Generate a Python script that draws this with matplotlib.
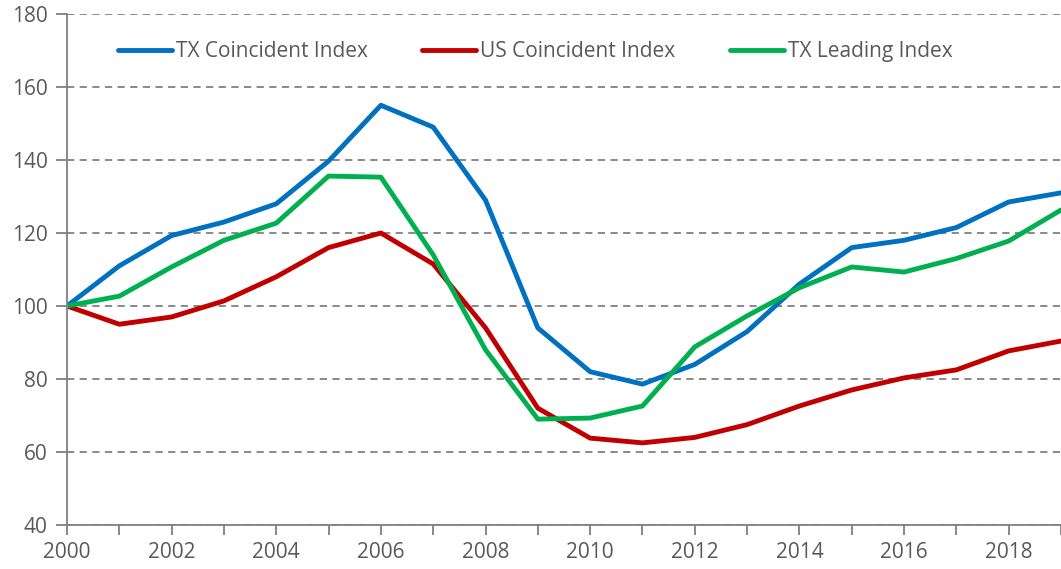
import matplotlib.pyplot as plt
from matplotlib.ticker import MultipleLocator

years = list(range(2000, 2020))
tx_coincident = [100, 111, 119.3, 123, 128, 139.7, 155, 149, 129, 94,
                 82, 78.6, 84, 93, 106, 116, 118, 121.5, 128.5, 131]
us_coincident = [100, 95, 97, 101.4, 108, 116, 120, 111.5, 94, 72,
                 63.8, 62.5, 64, 67.5, 72.6, 77, 80.3, 82.5, 87.7, 90.4]
tx_leading = [100, 102.7, 110.7, 118, 122.7, 135.6, 135.3, 114, 88, 69,
              69.3, 72.6, 88.8, 97.3, 105, 110.7, 109.3, 113, 117.8, 126.3]

plt.rcParams['font.family'] = ['Open Sans', 'DejaVu Sans']
grey = '#595959'
axis_grey = '#808080'

fig = plt.figure(figsize=(10.61, 5.69), dpi=100)
ax = fig.add_axes([67 / 1061, 1 - 525 / 569, 1 - 67 / 1061, (525 - 14) / 569])

ax.plot(years, tx_coincident, color='#0070C0', lw=3.5, label='TX Coincident Index',
        solid_capstyle='round')
ax.plot(years, us_coincident, color='#C00000', lw=3.5, label='US Coincident Index',
        solid_capstyle='round')
ax.plot(years, tx_leading, color='#00B050', lw=3.5, label='TX Leading Index',
        solid_capstyle='round')

ax.set_xlim(2000, 2019)
ax.set_ylim(40, 180)
ax.yaxis.set_major_locator(MultipleLocator(20))
ax.xaxis.set_major_locator(MultipleLocator(2))
ax.xaxis.set_minor_locator(MultipleLocator(1))
ax.grid(axis='y', linestyle=(0, (4, 3)), color=axis_grey, lw=1.3)
ax.set_axisbelow(True)

for s in ['top', 'right']:
    ax.spines[s].set_visible(False)
for s in ['left', 'bottom']:
    ax.spines[s].set_color(axis_grey)
    ax.spines[s].set_linewidth(1.3)

ax.tick_params(axis='both', which='both', colors=axis_grey, labelcolor=grey,
               labelsize=15, width=1.3, direction='out')
ax.tick_params(axis='y', length=8, pad=6)
ax.tick_params(axis='x', which='both', length=7, pad=5)

ax.legend(loc='center left', bbox_to_anchor=(0.051, 0.927), ncol=3, frameon=False,
          fontsize=15, handlelength=2.6, columnspacing=2.6, handletextpad=0.2,
          borderpad=0, borderaxespad=0, labelcolor=grey)

fig.savefig('out.png', dpi=100)
